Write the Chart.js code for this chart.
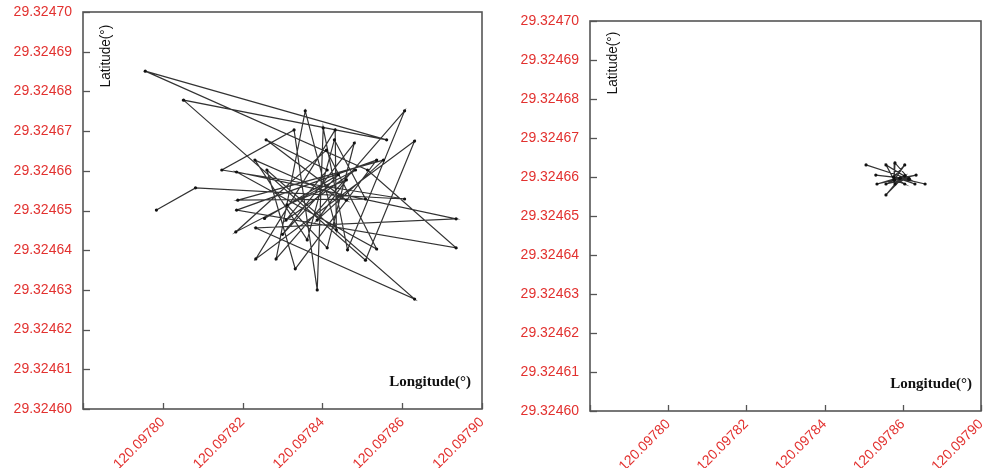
<!DOCTYPE html>
<html>
<head>
<meta charset="utf-8">
<script src="https://cdn.jsdelivr.net/npm/chart.js@4/dist/chart.umd.min.js"></script>
<style>
  html, body { margin: 0; padding: 0; background: #ffffff; }
  #wrap { position: relative; width: 990px; height: 468px; overflow: hidden; }
  .box { position: absolute; top: 0; height: 468px; }
</style>
</head>
<body>
<div id="wrap">
  <div class="box" style="left:0;width:495px"><canvas id="c1" width="495" height="468"></canvas></div>
  <div class="box" style="left:495px;width:495px"><canvas id="c2" width="495" height="468"></canvas></div>
</div>
<script>
// ---- Data ----
const xTickValues = [120.09778, 120.09780, 120.09782, 120.09784, 120.09786, 120.09788];
const xTickLabels = ['', '120.09780', '120.09782', '120.09784', '120.09786', '120.09790'];
const yTickValues = [29.32460, 29.32461, 29.32462, 29.32463, 29.32464, 29.32465, 29.32466, 29.32467, 29.32468, 29.32469, 29.32470];
const yTickLabels = ['29.32460', '29.32461', '29.32462', '29.32463', '29.32464', '29.32465', '29.32466', '29.32467', '29.32468', '29.32469', '29.32470'];

// Left panel: raw track (longitude / latitude in degrees)
const leftLon = [
  120.0977984, 120.0978082, 120.0978606, 120.0978148, 120.0978329, 120.0978387, 120.0978402, 120.0978463,
  120.0978606, 120.0978284, 120.0978357, 120.0978435, 120.0978432, 120.0978233, 120.0978631, 120.0978508,
  120.0978052, 120.0978561, 120.0977956, 120.0978513, 120.0978735, 120.0978185, 120.0978536, 120.0978332,
  120.0978261, 120.0978631, 120.0978233, 120.0978735, 120.0978185, 120.0978536, 120.0978410, 120.0978183,
  120.0978483, 120.0978309, 120.0978412, 120.0978259, 120.0978460, 120.0978231, 120.0978362, 120.0978430,
  120.0978508, 120.0978188, 120.0978553, 120.0978387, 120.0978460, 120.0978311, 120.0978412, 120.0978480,
  120.0978300, 120.0978440, 120.0978255
];
const leftLat = [
  29.3246501, 29.3246557, 29.3246529, 29.3246602, 29.3246703, 29.3246300, 29.3246708, 29.3246401,
  29.3246751, 29.3246378, 29.3246751, 29.3246451, 29.3246703, 29.3246378, 29.3246675, 29.3246375,
  29.3246778, 29.3246678, 29.3246851, 29.3246602, 29.3246406, 29.3246501, 29.3246627, 29.3246353,
  29.3246602, 29.3246277, 29.3246456, 29.3246479, 29.3246597, 29.3246403, 29.3246652, 29.3246446,
  29.3246602, 29.3246476, 29.3246602, 29.3246678, 29.3246526, 29.3246627, 29.3246426, 29.3246678,
  29.3246529, 29.3246526, 29.3246627, 29.3246476, 29.3246577, 29.3246514, 29.3246406, 29.3246670,
  29.3246440, 29.3246590, 29.3246480
];

// Right panel: processed track
const rightLon = [
  120.0978506, 120.0978616, 120.0978557, 120.0978578, 120.0978605, 120.0978577, 120.0978657, 120.0978593,
  120.0978634, 120.0978578, 120.0978534, 120.0978605, 120.0978557, 120.0978593, 120.0978631, 120.0978577,
  120.0978531, 120.0978616, 120.0978580, 120.0978578, 120.0978605, 120.0978577, 120.0978580, 120.0978605,
  120.0978557, 120.0978616
];
const rightLat = [
  29.3246631, 29.3246595, 29.3246631, 29.3246592, 29.3246631, 29.3246600, 29.3246582, 29.3246597,
  29.3246605, 29.3246592, 29.3246582, 29.3246603, 29.3246554, 29.3246597, 29.3246582, 29.3246600,
  29.3246605, 29.3246595, 29.3246636, 29.3246592, 29.3246582, 29.3246600, 29.3246582, 29.3246603,
  29.3246582, 29.3246595
];

const latTitle = 'Latitude(°)';
const lonTitle = 'Longitude(°)';

// ---- Styling helpers ----
const RED = '#e2312f';
const TICK_FONT = { family: '"Liberation Sans", Arial, sans-serif', size: 14 };

const framePlugin = {
  id: 'frame',
  afterDraw(chart, args, opts) {
    const { ctx, chartArea: a, scales } = chart;
    ctx.save();
    ctx.strokeStyle = '#555';
    ctx.lineWidth = 1.3;
    scales.y.ticks.forEach(t => {
      const y = Math.round(scales.y.getPixelForValue(t.value)) + 0.5;
      ctx.beginPath(); ctx.moveTo(a.left, y); ctx.lineTo(a.left + 7, y); ctx.stroke();
    });
    scales.x.ticks.forEach(t => {
      const x = Math.round(scales.x.getPixelForValue(t.value)) + 0.5;
      ctx.beginPath(); ctx.moveTo(x, a.bottom); ctx.lineTo(x, a.bottom - 6); ctx.stroke();
    });
    ctx.strokeStyle = '#555';
    ctx.lineWidth = 1.6;
    ctx.strokeRect(a.left, a.top, a.right - a.left, a.bottom - a.top);
    ctx.fillStyle = '#111';
    ctx.save();
    ctx.translate(a.left + opts.latDx, a.top + opts.latDy);
    ctx.rotate(-Math.PI / 2);
    ctx.scale(0.9, 1);
    ctx.font = '15px "Liberation Sans", "DejaVu Sans", sans-serif';
    ctx.textAlign = 'center';
    ctx.textBaseline = 'middle';
    ctx.fillText(latTitle, 0, 0);
    ctx.restore();
    ctx.font = '600 15px "Liberation Serif", "DejaVu Serif", serif';
    ctx.textAlign = 'right';
    ctx.textBaseline = 'middle';
    ctx.fillText(lonTitle, a.right - opts.lonDx, a.bottom - opts.lonDy);
    ctx.restore();
  }
};

function makeChart(id, lon, lat, cfg) {
  const pts = lon.map((v, i) => ({ x: v, y: lat[i] }));
  return new Chart(document.getElementById(id), {
    type: 'scatter',
    data: {
      datasets: [{
        data: pts,
        showLine: true,
        borderColor: '#333',
        borderWidth: 1.2,
        pointRadius: 1.6,
        pointBackgroundColor: '#111',
        pointBorderWidth: 0,
        tension: 0
      }]
    },
    options: {
      responsive: false,
      animation: false,
      devicePixelRatio: 1,
      layout: { padding: { top: cfg.top, right: cfg.right, left: 0, bottom: 0 } },
      plugins: {
        legend: { display: false },
        tooltip: { enabled: false },
        frame: cfg.frame
      },
      scales: {
        x: {
          type: 'linear',
          min: xTickValues[0],
          max: xTickValues[xTickValues.length - 1],
          afterBuildTicks: s => { s.ticks = xTickValues.map(v => ({ value: v })); },
          afterFit: s => { s.height = cfg.xHeight; s.paddingLeft = 0; s.paddingRight = 0; },
          grid: { display: false },
          border: { display: false },
          ticks: {
            autoSkip: false,
            minRotation: 45,
            maxRotation: 45,
            padding: -3,
            color: RED,
            font: TICK_FONT,
            callback: (v, i) => xTickLabels[i]
          }
        },
        y: {
          type: 'linear',
          min: yTickValues[0],
          max: yTickValues[yTickValues.length - 1],
          afterBuildTicks: s => { s.ticks = yTickValues.map(v => ({ value: v })); },
          afterFit: s => { s.width = cfg.yWidth; s.paddingTop = 0; s.paddingBottom = 0; },
          grid: { display: false },
          border: { display: false },
          ticks: {
            autoSkip: false,
            padding: 3,
            color: RED,
            font: TICK_FONT,
            callback: (v, i) => yTickLabels[i]
          }
        }
      }
    },
    plugins: [framePlugin]
  });
}

makeChart('c1', leftLon, leftLat, {
  top: 12, right: 13, xHeight: 59, yWidth: 83,
  frame: { latDx: 23, latDy: 44, lonDx: 11, lonDy: 27 }
});
makeChart('c2', rightLon, rightLat, {
  top: 21, right: 9, xHeight: 57, yWidth: 95,
  frame: { latDx: 23, latDy: 42, lonDx: 9, lonDy: 27 }
});
</script>
</body>
</html>
